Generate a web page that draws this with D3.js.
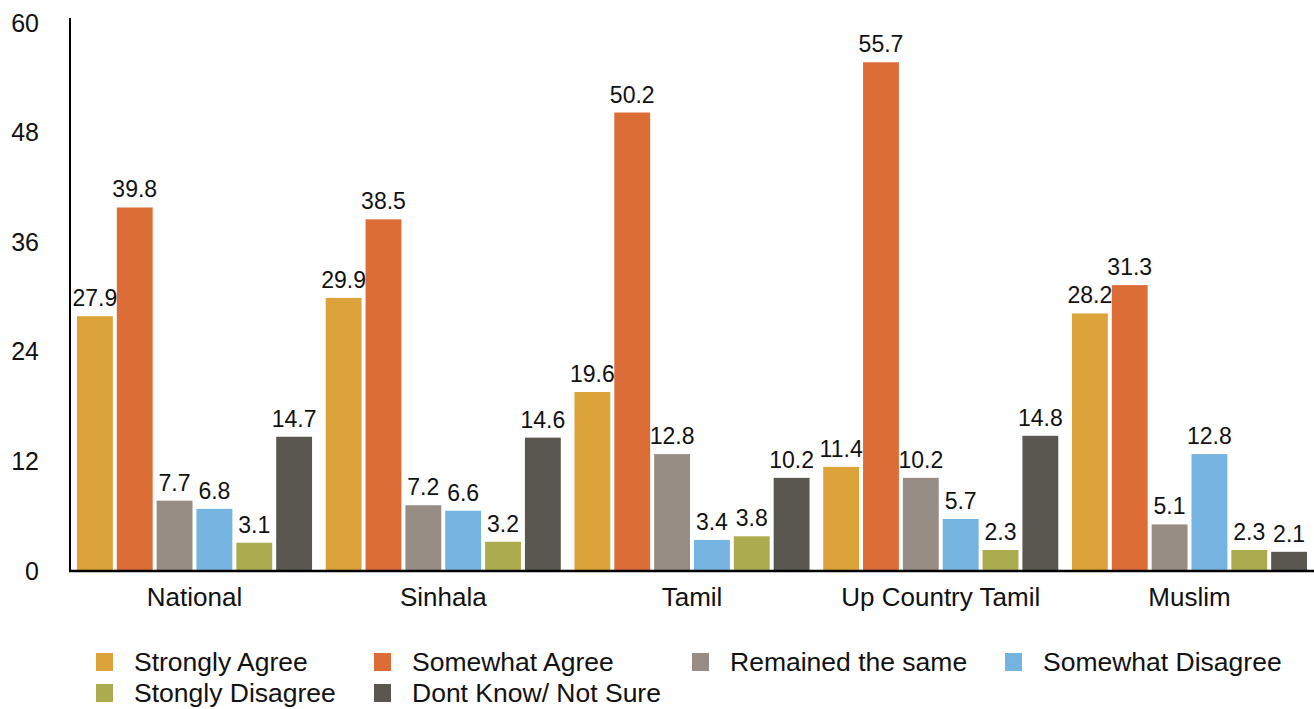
<!DOCTYPE html>
<html>
<head>
<meta charset="utf-8">
<script src="https://cdn.jsdelivr.net/npm/d3@7"></script>
<style>
  body { margin: 0; background: #fff; }
  text { font-family: "Liberation Sans", Arial, sans-serif; fill: #111; }
</style>
</head>
<body>
<div id="chart"></div>
<script>
var groups = ["National", "Sinhala", "Tamil", "Up Country Tamil", "Muslim"];
var series = ["Strongly Agree", "Somewhat Agree", "Remained the same", "Somewhat Disagree", "Stongly Disagree", "Dont Know/ Not Sure"];
var stronglyAgree   = [27.9, 29.9, 19.6, 11.4, 28.2];
var somewhatAgree   = [39.8, 38.5, 50.2, 55.7, 31.3];
var remainedSame    = [7.7, 7.2, 12.8, 10.2, 5.1];
var somewhatDisagree= [6.8, 6.6, 3.4, 5.7, 12.8];
var stronglyDisagree= [3.1, 3.2, 3.8, 2.3, 2.3];
var dontKnow        = [14.7, 14.6, 10.2, 14.8, 2.1];
var yTicks = [0, 12, 24, 36, 48, 60];
var colors = ["#dba33a", "#dc6d37", "#978d84", "#75b3e0", "#abac4e", "#5a5750"];

var values = [stronglyAgree, somewhatAgree, remainedSame, somewhatDisagree, stronglyDisagree, dontKnow];

var w = 1314, h = 709;
var svg = d3.select("#chart").append("svg")
    .attr("width", w)
    .attr("height", h);

var x0 = d3.scaleBand()
    .domain(groups)
    .range([70, 1314])
    .paddingInner(0.055)
    .paddingOuter(0.028);

var x1 = d3.scaleBand()
    .domain(series)
    .range([0, x0.bandwidth()])
    .paddingInner(0.1);

var y = d3.scaleLinear()
    .domain([0, 60])
    .range([571, 23]);

var color = d3.scaleOrdinal().domain(series).range(colors);

// bars
var g = svg.selectAll(".grp")
    .data(groups)
    .enter().append("g")
    .attr("class", "grp")
    .attr("transform", function (d) { return "translate(" + x0(d) + ",0)"; });

g.selectAll("rect")
    .data(function (d, i) {
        return series.map(function (s, j) { return {key: s, value: values[j][i]}; });
    })
    .enter().append("rect")
    .attr("x", function (d) { return x1(d.key); })
    .attr("y", function (d) { return y(d.value); })
    .attr("width", x1.bandwidth())
    .attr("height", function (d) { return y(0) - y(d.value); })
    .style("fill", function (d) { return color(d.key); });

g.selectAll(".val")
    .data(function (d, i) {
        return series.map(function (s, j) { return {key: s, value: values[j][i]}; });
    })
    .enter().append("text")
    .attr("class", "val")
    .attr("x", function (d) { return x1(d.key) + x1.bandwidth() / 2; })
    .attr("y", function (d) { return y(d.value) - 10; })
    .attr("text-anchor", "middle")
    .style("font-size", "23px")
    .text(function (d) { return d.value.toFixed(1); });

// y axis
var yAxis = d3.axisLeft(y).tickValues(yTicks).tickSize(0).tickPadding(31);
var ya = svg.append("g")
    .attr("transform", "translate(70,0)")
    .call(yAxis);
ya.select(".domain").remove();
ya.selectAll("text")
    .style("font-size", "25px")
    .style("font-family", "Liberation Sans, Arial, sans-serif")
    .attr("fill", "#111");

svg.append("line")
    .attr("x1", 70).attr("x2", 70)
    .attr("y1", 18).attr("y2", 572)
    .attr("stroke", "#000").attr("stroke-width", 2);

// x axis
var xAxis = d3.axisBottom(x0).tickSize(0).tickPadding(17);
var xa = svg.append("g")
    .attr("transform", "translate(0,571)")
    .call(xAxis);
xa.select(".domain").remove();
xa.selectAll("text")
    .style("font-size", "26px")
    .style("font-family", "Liberation Sans, Arial, sans-serif")
    .attr("fill", "#111");

svg.append("line")
    .attr("x1", 69).attr("x2", 1314)
    .attr("y1", 571).attr("y2", 571)
    .attr("stroke", "#000").attr("stroke-width", 2.5);

// legend
var legendX = [96, 374, 692, 1005];
var legendY = [662, 693];
var legend = svg.selectAll(".legend")
    .data(series)
    .enter().append("g")
    .attr("class", "legend")
    .attr("transform", function (d, i) {
        var col = i < 4 ? i : i - 4;
        var row = i < 4 ? 0 : 1;
        return "translate(" + legendX[col] + "," + legendY[row] + ")";
    });

legend.append("rect")
    .attr("x", 0)
    .attr("y", -9)
    .attr("width", 17)
    .attr("height", 18)
    .style("fill", function (d) { return color(d); });

legend.append("text")
    .attr("x", 38)
    .attr("y", 0)
    .attr("dy", "0.35em")
    .style("font-size", "26.5px")
    .text(function (d) { return d; });
</script>
</body>
</html>
